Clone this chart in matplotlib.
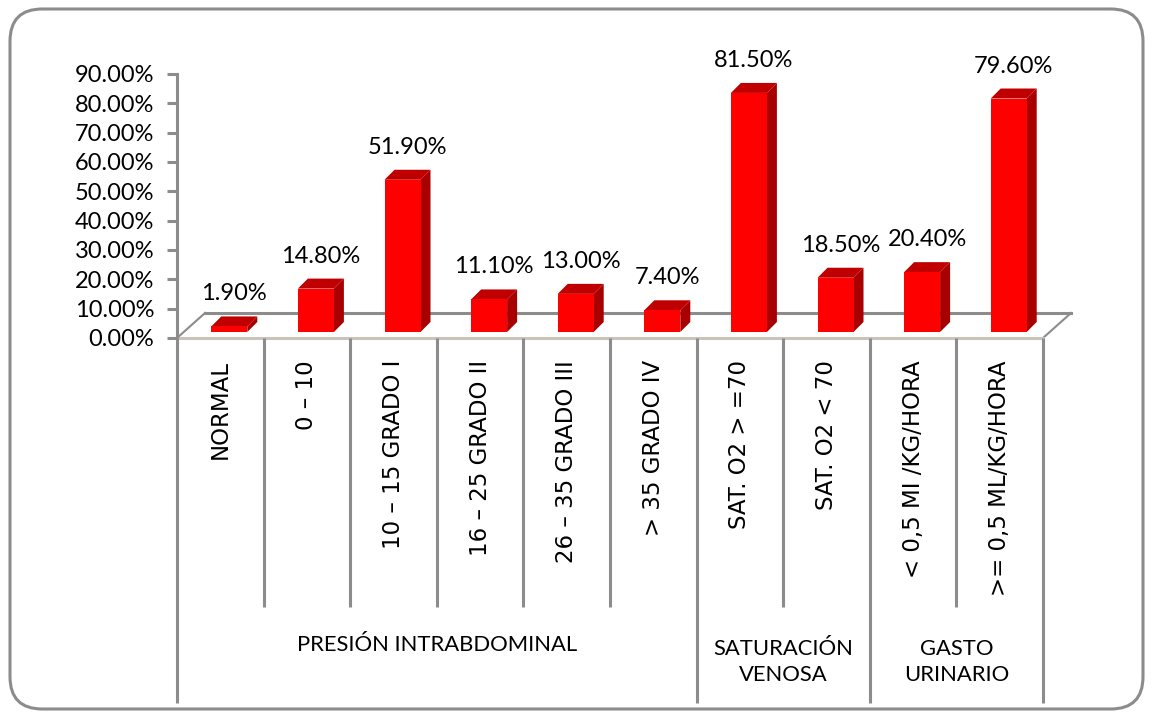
import numpy as np
import matplotlib
matplotlib.use("Agg")
import matplotlib.pyplot as plt
from matplotlib.patches import Polygon, FancyBboxPatch

# Values (%) for each category
categories = ["NORMAL", "0 – 10", "10 – 15 GRADO I", "16 – 25 GRADO II",
              "26 – 35 GRADO III", "> 35 GRADO IV", "SAT. O2 > =70",
              "SAT. O2 < 70", "< 0,5 MI /KG/HORA", ">= 0,5 ML/KG/HORA"]
values = [1.9, 14.8, 51.9, 11.1, 13.0, 7.4, 81.5, 18.5, 20.4, 79.6]
groups = ["PRESIÓN INTRABDOMINAL", "SATURACIÓN\nVENOSA", "GASTO\nURINARIO"]
group_spans = [(0, 6), (6, 8), (8, 10)]
yticks = np.arange(0, 91, 10)

W, H = 1153, 717
GRAY = "#8c8c8c"
FRONT, SIDE, TOP = "#ff0000", "#a80000", "#c00000"
plt.rcParams["font.family"] = ["Lato", "DejaVu Sans"]

fig = plt.figure(figsize=(W / 100, H / 100), dpi=100)

# outer rounded frame
frame = FancyBboxPatch((10 / W, 8 / H), 1133 / W, 700 / H,
                       boxstyle="round,pad=0,rounding_size=0.028",
                       transform=fig.transFigure, fill=False,
                       edgecolor=GRAY, linewidth=2.2, mutation_aspect=W / H)
fig.patches.append(frame)

# plot area in pixels: x 177..1043, y(0%)=338, y(90%)=74
x0, x1, y0, y90 = 177, 1043, 338, 74
ax = fig.add_axes([x0 / W, (H - y0) / H, (x1 - x0) / W, (y0 - y90) / H])
ax.set_xlim(0, 10)
ax.set_ylim(0, 90)
pxx = (x1 - x0) / 10.0   # px per category
pxy = (y0 - y90) / 90.0  # px per percent


def dx(p):
    return p / pxx


def dy(p):
    return p / pxy


ax.set_facecolor("none")
for s in ["top", "right", "bottom"]:
    ax.spines[s].set_visible(False)
ax.spines["left"].set_color(GRAY)
ax.spines["left"].set_linewidth(2.2)
ax.set_xticks([])
ax.set_yticks(yticks)
ax.set_yticklabels([f"{t:.2f}%" for t in yticks], fontsize=17)
ax.tick_params(axis="y", length=7.5, width=2.2, color=GRAY, pad=9)

# floor of the 3D plot
fd_x, fd_y = dx(28), dy(25)
floor = Polygon([(0, 0), (10, 0), (10 + fd_x, fd_y), (fd_x, fd_y)],
                closed=True, facecolor="white", edgecolor="none",
                clip_on=False, zorder=1)
ax.add_patch(floor)
ax.plot([fd_x, 10 + fd_x], [fd_y, fd_y], color=GRAY, lw=2.2, clip_on=False, zorder=2)
ax.plot([0, fd_x], [0, fd_y], color=GRAY, lw=1.5, clip_on=False, zorder=2)
ax.plot([10, 10 + fd_x], [0, fd_y], color=GRAY, lw=1.5, clip_on=False, zorder=2)
ax.plot([0, 10], [0, 0], color="#c8c4bc", lw=2.2, clip_on=False, zorder=2)

# bars as 3D boxes
base = dy(6)
half_w = dx(18)
off = dx(9)
bd_x, bd_y = dx(10), dy(10)
for i, v in enumerate(values):
    cx = i + 0.5 + off
    l, r = cx - half_w, cx + half_w
    b, t = base, base + v
    side = Polygon([(r, b), (r + bd_x, b + bd_y), (r + bd_x, t + bd_y), (r, t)],
                   facecolor=SIDE, edgecolor="none", clip_on=False, zorder=3)
    top = Polygon([(l, t), (r, t), (r + bd_x, t + bd_y), (l + bd_x, t + bd_y)],
                  facecolor=TOP, edgecolor="none", clip_on=False, zorder=3)
    front = Polygon([(l, b), (r, b), (r, t), (l, t)],
                    facecolor=FRONT, edgecolor="none", clip_on=False, zorder=4)
    for p in (side, top, front):
        ax.add_patch(p)
    ax.text(cx + bd_x / 2, t + bd_y + dy(12), f"{v:.2f}%", ha="center",
            va="bottom", fontsize=17, color="black", clip_on=False)


def ypix(p):
    # data y for a pixel row below the axis
    return (y0 - p) / pxy


# category grid lines and labels
bounds = {0, 6, 8, 10}
for k in range(11):
    bottom = 703 if k in bounds else 607
    ax.plot([k, k], [0, ypix(bottom)], color=GRAY, lw=2.2,
            clip_on=False, solid_capstyle="butt")
for i, lab in enumerate(categories):
    ax.text(i + 0.5, ypix(360), lab, rotation=90, ha="center", va="top",
            fontsize=16.5, family="DejaVu Sans", clip_on=False)
for g, (a, b) in zip(groups, group_spans):
    n = g.count("\n") + 1
    yc = 645 if n == 1 else 662
    ax.text((a + b) / 2, ypix(yc), g, ha="center", va="center",
            fontsize=15.8, linespacing=1.4, clip_on=False)

fig.savefig("out.png", dpi=100)
